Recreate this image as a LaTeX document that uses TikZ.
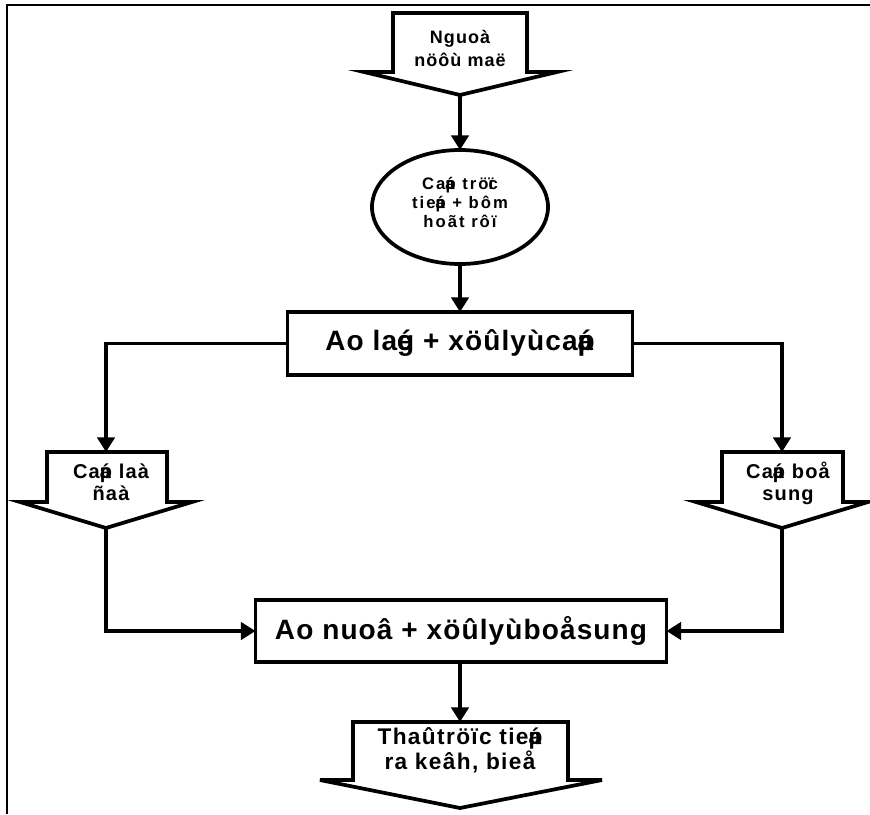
\documentclass[tikz,border=0pt]{standalone}
\usepackage{fontspec}
\setmainfont{Liberation Sans}
\usetikzlibrary{arrows.meta,shapes.geometric}
\newcommand{\ovl}[2]{\rlap{#1}#2}
\tikzset{
  shp/.style={draw=black, line width=2.8pt, fill=white, line join=miter},
  boxs/.style={draw=black, line width=2.8pt, fill=white, inner sep=0pt, outer sep=0pt, align=center},
  conn/.style={line width=2.8pt, -{Triangle[length=11pt,width=13pt]}},
  lbl/.style={align=center, inner sep=0pt},
}
\begin{document}
\begin{tikzpicture}[x=0.75pt,y=-0.75pt]
\useasboundingbox (0,0) rectangle (870,814);
% frame
\draw[line width=1.6pt] (7,814) -- (7,5) -- (870,5);

% top source shape
\draw[shp] (393,13) -- (527,13) -- (527,72) -- (557,72) -- (460,95) -- (364,72) -- (393,72) -- cycle;
\coordinate (srcTip) at (460,95);
\node[lbl, font=\fontsize{13.5}{17.25}\bfseries\addfontfeature{LetterSpace=6}] (src) at (460,48) {Nguoà\\nöôù maë};

% ellipse
\node[boxs, ellipse, minimum width=132pt, minimum height=85.5pt] (circ) at (460,207) {};
\node[lbl, font=\fontsize{12.5}{14.25}\bfseries\addfontfeature{LetterSpace=12}] (circt) at (460,202)
  {Ca\ovl{á}p trö\ovl{ï}c\\tie\ovl{á}p + bôm\\hoãt rôï};

% box 1
\node[boxs, minimum width=258.75pt, minimum height=47.25pt, font=\fontsize{21}{22}\bfseries\addfontfeature{LetterSpace=4}] (b1) at (460,343.5)
  {Ao la\ovl{é}g + xöûlyùca\ovl{á}p};

% left shape
\draw[shp] (47,452) -- (167,452) -- (167,502) -- (192,502) -- (106,528) -- (20,502) -- (47,502) -- cycle;
\coordinate (lTop) at (106,452);
\coordinate (lTip) at (106,528);
\node[lbl, font=\fontsize{15}{16.5}\bfseries\addfontfeature{LetterSpace=6}] (lt) at (111,482) {Ca\ovl{á}p laà\\ñaà};

% right shape
\draw[shp] (722,452) -- (843,452) -- (843,502) -- (868,502) -- (782,528) -- (696,502) -- (722,502) -- cycle;
\coordinate (rTop) at (782,452);
\coordinate (rTip) at (782,528);
\node[lbl, font=\fontsize{15}{16.5}\bfseries\addfontfeature{LetterSpace=6}] (rt) at (788,483) {Ca\ovl{á}p boå\\sung};

% box 2
\node[boxs, minimum width=308.25pt, minimum height=46.5pt, font=\fontsize{21}{22}\bfseries\addfontfeature{LetterSpace=4}] (b2) at (461,631)
  {Ao nuoâ + xöûlyùboåsung};
\coordinate (b2bot) at (460,654.25);

% bottom shape
\draw[shp] (353,722) -- (568,722) -- (568,780) -- (602,780) -- (460,808) -- (320,780) -- (353,780) -- cycle;
\coordinate (bTop) at (460,722);
\node[lbl, font=\fontsize{17}{15.75}\bfseries\addfontfeature{LetterSpace=6}] (bt) at (460,750) {Thaûtröïc tie\ovl{á}p\\ra keâh, bieå};

% connectors
\draw[conn] (srcTip) -- (circ.north);
\draw[conn] (circ.south) -- (b1.north);
\draw[conn] (b1.west) -| (lTop);
\draw[conn] (b1.east) -| (rTop);
\draw[conn] (lTip) |- (b2.west);
\draw[conn] (rTip) |- (b2.east);
\draw[conn] (b2.south -| bTop) -- (bTop);
\end{tikzpicture}
\end{document}
